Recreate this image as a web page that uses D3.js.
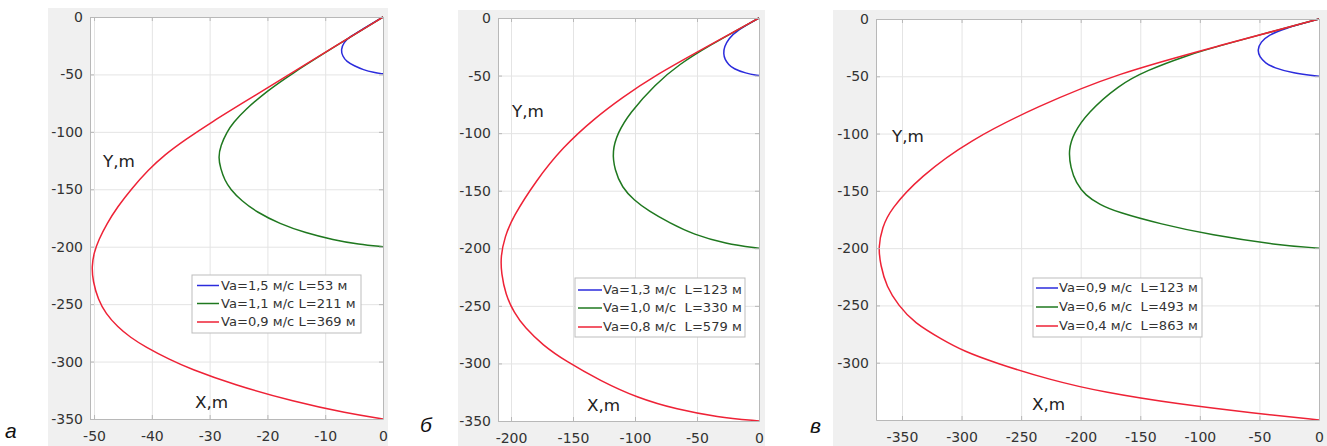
<!DOCTYPE html>
<html>
<head>
<meta charset="utf-8">
<script src="https://cdn.jsdelivr.net/npm/d3@7"></script>
<style>
  body { margin: 0; background: #fff; }
  svg { display: block; font-family: "DejaVu Sans", sans-serif; }
</style>
</head>
<body>
<svg id="chart" width="1327" height="446"></svg>
<script>
// ---- data ----
const panelLetters = ["а", "б", "в"];

const xTicksA = [-50, -40, -30, -20, -10, 0];
const xTicksB = [-200, -150, -100, -50, 0];
const xTicksC = [-350, -300, -250, -200, -150, -100, -50, 0];
const yTicksAB = [0, -50, -100, -150, -200, -250, -300, -350];
const yTicksC = [0, -50, -100, -150, -200, -250, -300];

const xLimA = [-50.7, 0];
const xLimB = [-210.5, 0];
const xLimC = [-371.8, 0];
const yLim = [-350, 0];

const legendA = ["Va=1,5 м/с L=53 м", "Va=1,1 м/с L=211 м", "Va=0,9 м/с L=369 м"];
const legendB = ["Va=1,3 м/с  L=123 м", "Va=1,0 м/с  L=330 м", "Va=0,8 м/с  L=579 м"];
const legendC = ["Va=0,9 м/с  L=123 м", "Va=0,6 м/с  L=493 м", "Va=0,4 м/с  L=863 м"];

// trajectories [x, y] in metres
const blueA = [[0,0],[-3.3,-10],[-5.7,-17],[-6.8,-22],[-7.3,-28.7],[-7,-34],[-6.3,-38.9],[-5,-42.5],[-3.4,-46],[-1.6,-48.3],[0,-49.5]];
const greenA = [[0,0],[-8.1,-25],[-16,-50],[-20.2,-65],[-23.9,-81],[-25.9,-92],[-27,-100],[-28.1,-112],[-28.5,-122],[-28.1,-132],[-27.4,-142],[-26.4,-150],[-24.5,-160],[-21.8,-170],[-17.9,-180],[-13.4,-188],[-8.6,-194],[-4.2,-198],[0,-200]];
const redA = [[0,0],[-8.1,-25],[-16.2,-50],[-23.9,-73.7],[-29.5,-91],[-34.3,-107],[-37.8,-120],[-40.6,-133],[-43.6,-150],[-45.9,-165],[-47.8,-180],[-49.2,-194],[-50,-205],[-50.4,-217],[-50.2,-230],[-49.3,-246],[-48,-258],[-45.9,-270],[-43.7,-279],[-41.2,-287],[-36.8,-298.6],[-33.5,-306],[-25.9,-320],[-15.4,-335],[-6.2,-345],[0,-350]];

const blueB = [[0,0],[-18,-11],[-24.5,-18],[-28,-25],[-28.7,-31],[-27.5,-36],[-24.5,-40.5],[-20.7,-44],[-11,-48],[0,-50]];
const greenB = [[0,0],[-42,-25],[-64,-40],[-83.6,-57.3],[-105,-83.4],[-114,-100],[-118.4,-115.4],[-116.5,-132],[-110.4,-147.3],[-101,-158],[-89,-167.6],[-72,-178],[-52.8,-188],[-27,-196],[0,-200]];
const redB = [[0,0],[-43,-25.5],[-86.3,-51.5],[-110,-69],[-131.8,-86.4],[-158.6,-112.5],[-180,-141.5],[-198.8,-173.4],[-205,-190],[-208.4,-207],[-207.8,-222],[-204.4,-240],[-197.6,-256],[-188.8,-269],[-174.5,-284],[-156,-298],[-128,-315],[-98,-330],[-66,-340],[-34,-346.5],[0,-350]];

const blueC = [[0,0],[-30,-8.5],[-42,-14],[-49,-20],[-51.7,-27],[-50,-33],[-45,-38.5],[-38,-42.5],[-22,-47.3],[0,-50]];
const greenC = [[0,0],[-85,-23.7],[-110,-31.5],[-145,-45],[-168,-57.6],[-194.8,-82.3],[-206,-100],[-210.3,-114.3],[-208.5,-130],[-204,-143],[-196,-154],[-184,-162],[-169.6,-168.5],[-132.9,-179],[-90.9,-188.5],[-34.9,-197.3],[0,-200]];
const redC = [[0,0],[-85,-23.7],[-169.6,-47.4],[-236.8,-76.5],[-292.9,-105.6],[-334.9,-137.6],[-360.1,-166.7],[-366.5,-182],[-369.9,-198.7],[-368,-215],[-363,-233.6],[-353,-250],[-340,-265],[-316,-280],[-298,-290],[-272,-300],[-226,-315],[-180,-326],[-119,-336],[-55,-344],[0,-350]];

const seriesColors = ["#2b2bdc", "#1f781f", "#ee2236"];

// ---- layout ----
const panels = [
  { bg: [48, 8, 388, 446], plot: [90, 17, 383, 419], xLim: xLimA, xTicks: xTicksA, yTicks: yTicksAB,
    curves: [blueA, greenA, redA], legend: legendA,
    leg: { x: 192, y: 275, w: 169, h: 58, rows: [285.5, 303.5, 322], l0: 197, l1: 219, tx: 221 },
    yLab: [103, 166.5], xLab: [195, 408], letter: [5, 438] },
  { bg: [458, 10, 765, 446], plot: [498, 18, 759, 421], xLim: xLimB, xTicks: xTicksB, yTicks: yTicksAB,
    curves: [blueB, greenB, redB], legend: legendB,
    leg: { x: 575, y: 278, w: 170, h: 59, rows: [290, 308, 327], l0: 578, l1: 602, tx: 603 },
    yLab: [512, 117], xLab: [587, 411], letter: [420, 432] },
  { bg: [833, 10, 1327, 446], plot: [876, 19, 1319, 420], xLim: xLimC, xTicks: xTicksC, yTicks: yTicksC,
    curves: [blueC, greenC, redC], legend: legendC,
    leg: { x: 1033, y: 278, w: 169, h: 59, rows: [288, 307, 326], l0: 1036, l1: 1058, tx: 1059 },
    yLab: [892, 141.5], xLab: [1032, 410], letter: [810, 433] }
];

const svg = d3.select("#chart");
const fmt = d => String(d);

panels.forEach((p, i) => {
  const [bx0, by0, bx1, by1] = p.bg;
  const [left, top, right, bottom] = p.plot;
  const w = right - left, h = bottom - top;

  // panel letter
  svg.append("text")
    .attr("x", p.letter[0]).attr("y", p.letter[1])
    .attr("font-family", "'Liberation Sans', Arial, sans-serif")
    .attr("font-style", "italic")
    .attr("font-size", 21)
    .attr("fill", "#111")
    .text(panelLetters[i]);

  svg.append("clipPath").attr("id", "clip" + i)
    .append("rect").attr("x", bx0).attr("y", by0).attr("width", bx1 - bx0).attr("height", by1 - by0);

  const g = svg.append("g").attr("clip-path", `url(#clip${i})`);

  g.append("rect")
    .attr("x", bx0).attr("y", by0).attr("width", bx1 - bx0).attr("height", by1 - by0)
    .attr("fill", "#f0f0f0");

  const x = d3.scaleLinear().domain(p.xLim).range([left, right]);
  const y = d3.scaleLinear().domain(yLim).range([bottom, top]);

  g.append("rect").attr("x", left).attr("y", top).attr("width", w).attr("height", h).attr("fill", "#fff");

  // grid
  g.append("g").attr("transform", `translate(0,${bottom})`)
    .call(d3.axisBottom(x).tickValues(p.xTicks).tickSize(-h).tickFormat(""))
    .call(a => a.select(".domain").remove())
    .call(a => a.selectAll("line").attr("stroke", "#e4e4e4"));
  g.append("g").attr("transform", `translate(${left},0)`)
    .call(d3.axisLeft(y).tickValues(yTicksAB).tickSize(-w).tickFormat(""))
    .call(a => a.select(".domain").remove())
    .call(a => a.selectAll("line").attr("stroke", "#e4e4e4"));

  // curves (B-spline keeps the hand-read points smooth)
  const line = d3.line().x(d => x(d[0])).y(d => y(d[1])).curve(d3.curveBasis);
  p.curves.forEach((c, k) => {
    g.append("path").datum(c)
      .attr("d", line)
      .attr("fill", "none")
      .attr("stroke", seriesColors[k])
      .attr("stroke-width", 1.5);
  });

  // axes with inward ticks, box
  const axStyle = a => {
    a.select(".domain").attr("stroke", "#b8b8b8");
    a.selectAll(".tick line").attr("stroke", "#b8b8b8");
    a.selectAll("text").attr("fill", "#333").attr("font-size", 14)
      .attr("font-family", "'DejaVu Sans', sans-serif");
  };
  g.append("g").attr("transform", `translate(0,${bottom})`)
    .call(d3.axisBottom(x).tickValues(p.xTicks).tickSizeInner(-4).tickSizeOuter(0).tickPadding(12).tickFormat(fmt))
    .call(axStyle);
  g.append("g").attr("transform", `translate(0,${top})`)
    .call(d3.axisTop(x).tickValues(p.xTicks).tickSizeInner(-4).tickSizeOuter(0).tickFormat(""))
    .call(axStyle);
  g.append("g").attr("transform", `translate(${left},0)`)
    .call(d3.axisLeft(y).tickValues(p.yTicks).tickSizeInner(-4).tickSizeOuter(0).tickPadding(7).tickFormat(fmt))
    .call(axStyle);
  g.append("g").attr("transform", `translate(${right},0)`)
    .call(d3.axisRight(y).tickValues(p.yTicks).tickSizeInner(-4).tickSizeOuter(0).tickFormat(""))
    .call(axStyle);

  // axis names inside the plot
  g.append("text").attr("transform", `translate(${p.yLab[0]},${p.yLab[1]}) scale(1.12,1)`)
    .attr("font-size", 15).attr("fill", "#222").text("Y,m");
  g.append("text").attr("transform", `translate(${p.xLab[0]},${p.xLab[1]}) scale(1.12,1)`)
    .attr("font-size", 15).attr("fill", "#222").text("X,m");

  // legend
  const L = p.leg;
  const lg = g.append("g");
  lg.append("rect").attr("x", L.x).attr("y", L.y).attr("width", L.w).attr("height", L.h)
    .attr("fill", "#fff").attr("stroke", "#bdbdbd");
  p.legend.forEach((txt, k) => {
    lg.append("line").attr("x1", L.l0).attr("x2", L.l1).attr("y1", L.rows[k]).attr("y2", L.rows[k])
      .attr("stroke", seriesColors[k]).attr("stroke-width", 1.5);
    lg.append("text").attr("transform", `translate(${L.tx},${L.rows[k]}) scale(1.09,1)`)
      .attr("dy", "0.35em")
      .attr("font-size", 12).attr("fill", "#333")
      .style("white-space", "pre")
      .text(txt);
  });
});
</script>
</body>
</html>
